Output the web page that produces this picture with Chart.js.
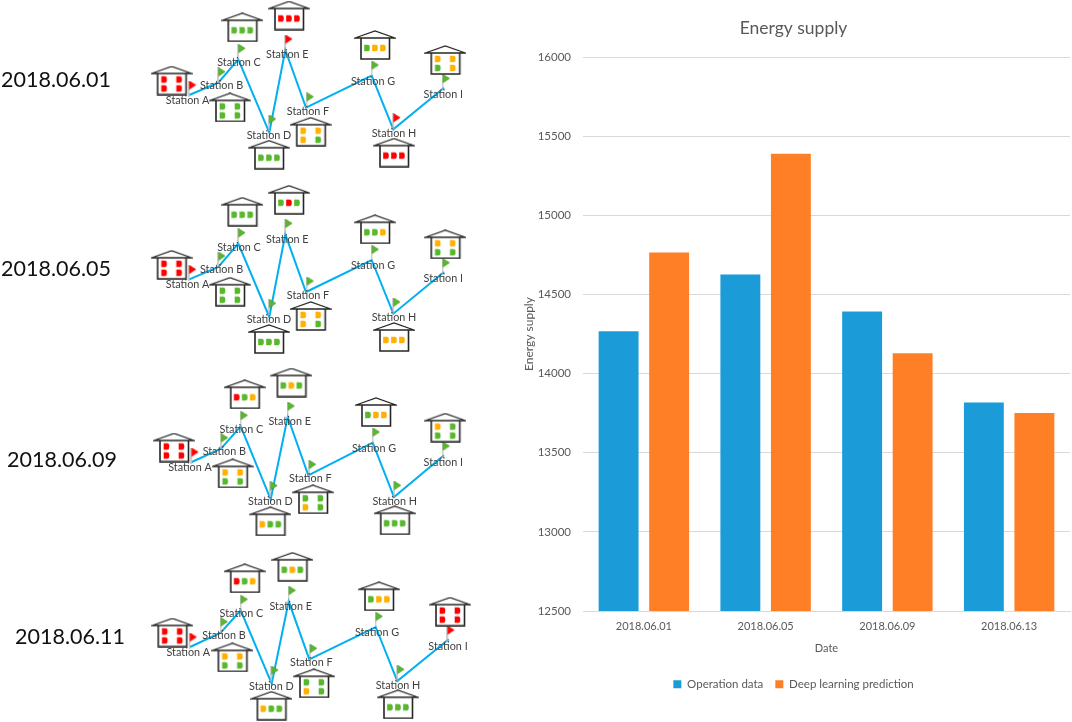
<!DOCTYPE html>
<html>
<head>
<meta charset="utf-8">
<style>
html,body{margin:0;padding:0;background:#fff;width:1072px;height:722px;overflow:hidden}
canvas{position:absolute;top:0}
#net{left:0;filter:blur(0.4px)}
#bars{left:515px;filter:blur(0.25px)}
</style>
<script src="https://cdn.jsdelivr.net/npm/chart.js@4"></script>
</head>
<body>
<canvas id="net" width="515" height="722"></canvas>
<canvas id="bars" width="557" height="722"></canvas>
<script>
// ---- bar chart data
const categories = ['2018.06.01','2018.06.05','2018.06.09','2018.06.13'];
const operationData = [14267,14626,14393,13818];
const predictionData = [14765,15389,14129,13751];
const seriesNames = ['Operation data','Deep learning prediction'];

// ---- network diagram data
const stationNames = ['Station A','Station B','Station C','Station D','Station E','Station F','Station G','Station H','Station I'];
const panelDates = ['2018.06.01','2018.06.05','2018.06.09','2018.06.11'];
const panelDateX = [56,56,62,70];
const panelDateY = [80,269,460,637];

const stationX1 = [189.3,218.3,238.3,269.3,285.3,306,371.7,393.3,444];
const stationY1 = [95,82.7,59.3,132.7,50,107.7,75.7,129.3,87.7];
const stationX2 = [189.3,218.3,238.3,269.3,285.3,306,371.7,393.3,444];
const stationY2 = [279.3,267,243.7,317,234.3,292,260,313.7,272];
const stationX3 = [191.7,221,240.7,270.7,287.7,308.3,372.7,394,444];
const stationY3 = [462,448.7,426.3,499.3,417,475.3,442.7,497,455.3];
const stationX4 = [190,220.7,240.7,271.7,288.7,309.3,375.7,397.3,448.7];
const stationY4 = [647,632.7,610.3,683.7,601.3,659.3,627,681,639.3];

// flag colour and house lights per station (R red, G green, O amber)
const flags1 = ['R','G','G','G','R','G','G','R','G'];
const flags2 = ['R','G','G','G','G','G','G','G','G'];
const flags3 = ['R','G','G','G','G','G','G','G','G'];
const flags4 = ['R','G','G','G','G','G','G','G','R'];
const lights1 = ['RRRR','GGGG','GGG','GGG','RRR','OOOG','GOO','RRR','OOGO'];
const lights2 = ['RRRR','GGGG','GGG','GGG','GRG','OOOG','GGO','OOO','OOGG'];
const lights3 = ['RRRR','OOGG','RGO','OGG','GOG','GGOG','GOO','GGG','OGGG'];
const lights4 = ['RRRR','OOGG','RGO','OGG','GOG','GGOG','GOO','GGG','RRRR'];

// ---- layout offsets from a station
const flagDx = [3,3.3,3.3,3,3.3,4,3.3,3.3,2];
const flagDy = [-6.5,-7.5,-7.5,-10.2,-7.5,-7.5,-7.2,-8.2,-5.8];
const houseDx = [-17.7,11.7,4,-0.3,3.7,4.7,3.3,0.7,1.3];
const houseDy = [-14.5,24.7,-32,22,-34.5,24,-30.7,23.3,-27.7];
const labelDx = [-1.7,3.3,0.7,-0.3,2,2,1.3,0.7,-0.7];
const labelDy = [5.7,3,3.7,2.7,5,3.7,6,4.3,7];

const COL = {R:'#FF0000',G:'#58B82C',O:'#FFB000'};
const FONT = 'Lato, Carlito, sans-serif';

function lamp(c,x,y,col){
  const w=5.6,h=6.6;
  c.fillStyle=col;
  c.beginPath();
  c.moveTo(x-w/2,y-h/2);
  c.lineTo(x+w/2-2,y-h/2);
  c.quadraticCurveTo(x+w/2,y-h/2,x+w/2,y);
  c.quadraticCurveTo(x+w/2,y+h/2,x+w/2-2,y+h/2);
  c.lineTo(x-w/2,y+h/2);
  c.closePath();
  c.fill();
}
const houseCache={};
function houseIcon(code){
  if(houseCache[code]) return houseCache[code];
  const cv=document.createElement('canvas');cv.width=42;cv.height=30;
  const c=cv.getContext('2d');
  c.strokeStyle='#262626';c.lineWidth=1.3;c.lineJoin='miter';
  c.beginPath();c.moveTo(1,8);c.lineTo(21,1);c.lineTo(41,8);c.closePath();c.stroke();
  c.lineWidth=1.6;
  c.beginPath();c.moveTo(7,8);c.lineTo(7,29);c.lineTo(35.5,29);c.lineTo(35.5,8);c.stroke();
  const L=code.split('');
  if(L.length===3){
    L.forEach((k,i)=>lamp(c,13+i*8,18,COL[k]));
  }else{
    L.forEach((k,i)=>lamp(c,13.5+(i%2)*15,Math.floor(i/2)*9+14,COL[k]));
  }
  return houseCache[code]=cv;
}
const flagCache={};
function flagIcon(k){
  if(flagCache[k]) return flagCache[k];
  const cv=document.createElement('canvas');cv.width=9;cv.height=16;
  const c=cv.getContext('2d');
  c.strokeStyle='#b5b5b5';c.lineWidth=1.3;
  c.beginPath();c.moveTo(1,0);c.lineTo(1,16);c.stroke();
  c.fillStyle=COL[k];c.strokeStyle=k==='G'?'#3f8f20':COL[k];c.lineWidth=0.6;
  c.beginPath();c.moveTo(1.6,0.5);c.lineTo(8,4.5);c.lineTo(1.6,8.8);c.closePath();c.fill();c.stroke();
  return flagCache[k]=cv;
}

const panels=[
  {x:stationX1,y:stationY1,f:flags1,l:lights1},
  {x:stationX2,y:stationY2,f:flags2,l:lights2},
  {x:stationX3,y:stationY3,f:flags3,l:lights3},
  {x:stationX4,y:stationY4,f:flags4,l:lights4}
];
const netSets=[];
panels.forEach(p=>{
  netSets.push({type:'line',data:p.x.map((v,i)=>({x:v,y:p.y[i]})),borderColor:'#00B0F0',borderWidth:2,pointRadius:0,tension:0,order:3});
  netSets.push({type:'scatter',data:p.x.map((v,i)=>({x:v+flagDx[i],y:p.y[i]+flagDy[i]})),pointStyle:p.f.map(flagIcon),pointRadius:8,order:2});
  netSets.push({type:'scatter',data:p.x.map((v,i)=>({x:v+houseDx[i],y:p.y[i]+houseDy[i]})),pointStyle:p.l.map(houseIcon),pointRadius:15,order:1});
});

const netText={
  id:'netText',
  afterDatasetsDraw(chart){
    const c=chart.ctx,sx=chart.scales.x,sy=chart.scales.y;
    c.save();
    c.textAlign='center';c.textBaseline='middle';
    c.font='10.8px '+FONT;c.fillStyle='#404040';
    panels.forEach(p=>{
      stationNames.forEach((n,i)=>{
        c.fillText(n,sx.getPixelForValue(p.x[i]+labelDx[i]),sy.getPixelForValue(p.y[i]+labelDy[i]));
      });
    });
    c.font='21.5px '+FONT;c.fillStyle='#111';
    panelDates.forEach((d,i)=>c.fillText(d,sx.getPixelForValue(panelDateX[i]),sy.getPixelForValue(panelDateY[i])));
    c.restore();
  }
};

new Chart(document.getElementById('net'),{
  type:'scatter',
  data:{datasets:netSets},
  plugins:[netText],
  options:{
    responsive:false,animation:false,
    layout:{padding:0,autoPadding:false},
    plugins:{legend:{display:false},title:{display:false},tooltip:{enabled:false}},
    scales:{
      x:{type:'linear',min:0,max:515,display:false},
      y:{type:'linear',min:0,max:722,reverse:true,display:false}
    }
  }
});

Chart.defaults.font.family=FONT;
new Chart(document.getElementById('bars'),{
  type:'bar',
  data:{
    labels:categories,
    datasets:[
      {label:seriesNames[0],data:operationData,backgroundColor:'#1B9CD9',categoryPercentage:0.83,barPercentage:0.79},
      {label:seriesNames[1],data:predictionData,backgroundColor:'#FF7F27',categoryPercentage:0.83,barPercentage:0.79}
    ]
  },
  options:{
    responsive:false,animation:false,
    layout:{padding:{left:2,right:2,top:14,bottom:22},autoPadding:false},
    plugins:{
      tooltip:{enabled:false},
      title:{display:true,text:'Energy supply',color:'#595959',font:{size:17.5,weight:'normal'},padding:{top:4,bottom:18}},
      legend:{position:'bottom',labels:{boxWidth:8,boxHeight:8,color:'#595959',font:{size:11.5},padding:12}}
    },
    scales:{
      x:{
        grid:{display:false,drawTicks:false},
        border:{color:'#D9D9D9'},
        ticks:{color:'#595959',font:{size:11},padding:9,maxRotation:0},
        title:{display:true,text:'Date',color:'#595959',font:{size:11},padding:{top:0,bottom:11}}
      },
      y:{
        min:12500,max:16000,
        afterFit(scale){scale.width=66;},
        grid:{color:'#D9D9D9',drawTicks:false},
        border:{display:false},
        ticks:{stepSize:500,color:'#595959',font:{size:11.5},padding:12,callback:v=>String(v)},
        title:{display:true,text:'Energy supply',color:'#595959',font:{size:12},padding:{top:5,bottom:6}}
      }
    }
  }
});
</script>
</body>
</html>
